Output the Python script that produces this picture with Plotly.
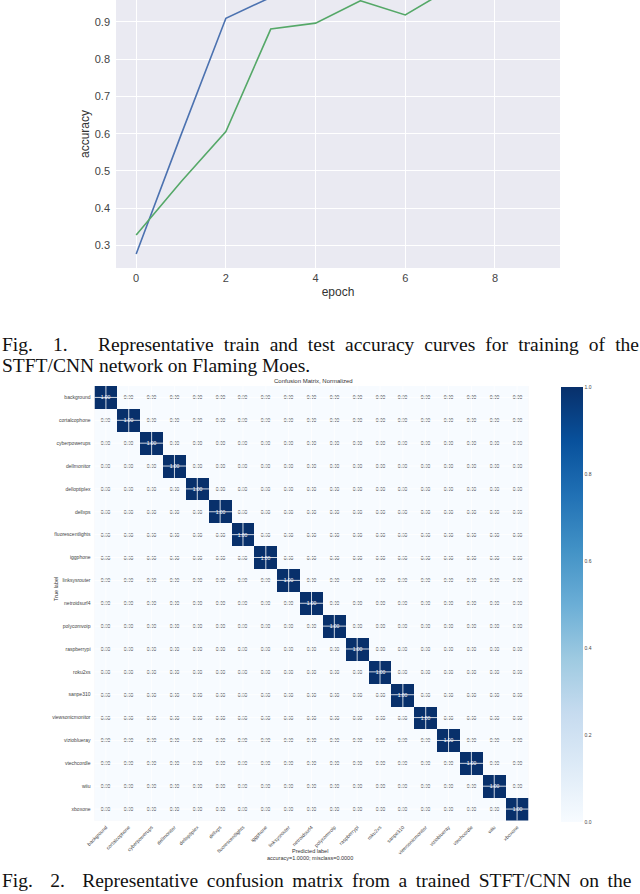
import plotly.graph_objects as go

# ---------------- data ----------------
epochs = [0, 1, 2, 3, 4, 5, 6, 7, 8, 9]
train_acc = [0.277, 0.597, 0.910, 0.966, 0.980, 0.988, 0.992, 0.995, 0.997, 0.999]
test_acc = [0.328, 0.471, 0.606, 0.881, 0.897, 0.957, 0.919, 0.990, 0.985, 0.992]
x_ticks = [0, 2, 4, 6, 8]
y_ticks = [0.3, 0.4, 0.5, 0.6, 0.7, 0.8, 0.9]

classes = ["background", "cortalcophone", "cyberpowerups", "dellmonitor", "delloptiplex",
           "dellxps", "fluorescentlights", "iggphone", "linksysrouter", "netroidsurf4",
           "polycomvoip", "raspberrypi", "roku2xs", "sanpe310", "viewsonicmonitor",
           "vizioblueray", "vtechcordle", "wiiu", "xboxone"]
cm = [[1.0 if i == j else 0.0 for j in range(len(classes))] for i in range(len(classes))]
cbar_ticks = [0.0, 0.2, 0.4, 0.6, 0.8, 1.0]

blues = ["rgb(247,251,255)", "rgb(222,235,247)", "rgb(198,219,239)", "rgb(158,202,225)",
         "rgb(107,174,214)", "rgb(66,146,198)", "rgb(33,113,181)", "rgb(8,81,156)", "rgb(8,48,107)"]
colorscale = [[i / (len(blues) - 1), c] for i, c in enumerate(blues)]

W, H = 640, 894
def px_x(p): return p / W
def px_y(p): return 1 - p / H

SANS = "Liberation Sans, Arial, sans-serif"
SERIF = "Liberation Serif, Times New Roman, serif"

fig = go.Figure()

# ---------------- top accuracy chart ----------------
fig.add_trace(go.Scatter(x=epochs, y=train_acc, mode="lines", name="train",
                         line=dict(color="#4C72B0", width=1.6), xaxis="x", yaxis="y",
                         showlegend=False))
fig.add_trace(go.Scatter(x=epochs, y=test_acc, mode="lines", name="test",
                         line=dict(color="#55A868", width=1.6), xaxis="x", yaxis="y",
                         showlegend=False))

# ---------------- confusion matrix ----------------
fig.add_trace(go.Heatmap(
    z=cm, x=classes, y=classes, xaxis="x2", yaxis="y2",
    colorscale=colorscale, zmin=0, zmax=1,
    texttemplate="%{z:.2f}", textfont=dict(size=5, family=SANS),
    colorbar=dict(x=px_x(561), xanchor="left", xpad=0, ypad=0, thickness=22, thicknessmode="pixels",
                  len=(822 - 387) / H, lenmode="fraction", y=px_y((387 + 822) / 2),
                  yanchor="middle", outlinewidth=0, tickvals=cbar_ticks,
                  ticktext=[f"{v:.1f}" for v in cbar_ticks], ticks="",
                  tickfont=dict(size=5, color="#444", family=SANS)),
    hoverinfo="skip"))

# white grid lines through heatmap cell centres
shapes = []
for c in classes:
    shapes.append(dict(type="line", xref="x2", x0=c, x1=c, yref="y2 domain", y0=0, y1=1,
                       line=dict(color="rgba(255,255,255,0.8)", width=1), layer="above"))
    shapes.append(dict(type="line", yref="y2", y0=c, y1=c, xref="x2 domain", x0=0, x1=1,
                       line=dict(color="rgba(255,255,255,0.8)", width=1), layer="above"))

cap_font = dict(family=SERIF, size=19.5, color="#111")
cap_x = px_x(0)
annotations = [
    dict(text='<span style="word-spacing:5.2px">Fig.  1.   Representative train and test accuracy curves for training of the</span>',
         x=cap_x, y=px_y(344), xref="paper", yref="paper", xanchor="left", yanchor="middle",
         showarrow=False, font=cap_font),
    dict(text="STFT/CNN network on Flaming Moes.",
         x=cap_x, y=px_y(366), xref="paper", yref="paper", xanchor="left", yanchor="middle",
         showarrow=False, font=cap_font),
    dict(text='<span style="word-spacing:3.8px">Fig.  2.  Representative confusion matrix from a trained STFT/CNN on the</span>',
         x=cap_x, y=px_y(880), xref="paper", yref="paper", xanchor="left", yanchor="middle",
         showarrow=False, font=cap_font),
    dict(text="Confusion Matrix, Normalized", x=px_x(313), y=px_y(381), xref="paper", yref="paper",
         showarrow=False, font=dict(family=SANS, size=6, color="#333")),
    dict(text="Predicted label", x=px_x(310), y=px_y(856), xref="paper", yref="paper",
         showarrow=False, font=dict(family=SANS, size=5.5, color="#333")),
    dict(text="accuracy=1.0000; misclass=0.0000", x=px_x(310), y=px_y(863), xref="paper", yref="paper",
         showarrow=False, font=dict(family=SANS, size=5.5, color="#333")),
    dict(text="True label", x=px_x(51), y=px_y(603), xref="paper", yref="paper", textangle=-90,
         showarrow=False, font=dict(family=SANS, size=5.5, color="#333")),
]

fig.update_layout(
    width=W, height=H, margin=dict(l=0, r=0, t=0, b=0, autoexpand=False),
    paper_bgcolor="white", plot_bgcolor="#EAEAF2",
    xaxis=dict(domain=[px_x(116), px_x(560)], range=[-0.45, 9.45], tickvals=x_ticks,
               showgrid=True, gridcolor="white", gridwidth=1.2, zeroline=False, showline=False,
               ticks="", tickfont=dict(family=SANS, size=11, color="#444"), automargin=False,
               ticklabelstandoff=2,
               title=dict(text="epoch", font=dict(family=SANS, size=12, color="#333"), standoff=4),
               anchor="y"),
    yaxis=dict(domain=[px_y(268), 1.0], range=[0.2396, 0.959], tickvals=y_ticks,
               ticktext=[f"{v:.1f}" for v in y_ticks], automargin=False, ticklabelstandoff=5,
               showgrid=True, gridcolor="white", gridwidth=1.2, zeroline=False, showline=False,
               ticks="", tickfont=dict(family=SANS, size=11, color="#444"),
               title=dict(text="accuracy", font=dict(family=SANS, size=12, color="#333"), standoff=2),
               anchor="x"),
    xaxis2=dict(domain=[px_x(94.5), px_x(528.5)], anchor="y2", tickangle=-45, automargin=False,
                showgrid=False, zeroline=False, showline=False, ticks="", ticklabelstandoff=2,
                tickfont=dict(family=SANS, size=5, color="#444")),
    yaxis2=dict(domain=[px_y(820.5), px_y(386)], anchor="x2", autorange="reversed", automargin=False,
                showgrid=False, zeroline=False, showline=False, ticks="", ticklabelstandoff=3,
                tickfont=dict(family=SANS, size=5, color="#444")),
    shapes=shapes,
    annotations=annotations,
)
fig.add_shape(type="rect", xref="x2 domain", yref="y2 domain", x0=0, x1=1, y0=0, y1=1,
              fillcolor="white", line=dict(width=0), layer="below")

fig.write_html("out.html", config={"displayModeBar": False},
               post_script="document.body.style.margin='0';document.body.style.overflow='hidden';")
